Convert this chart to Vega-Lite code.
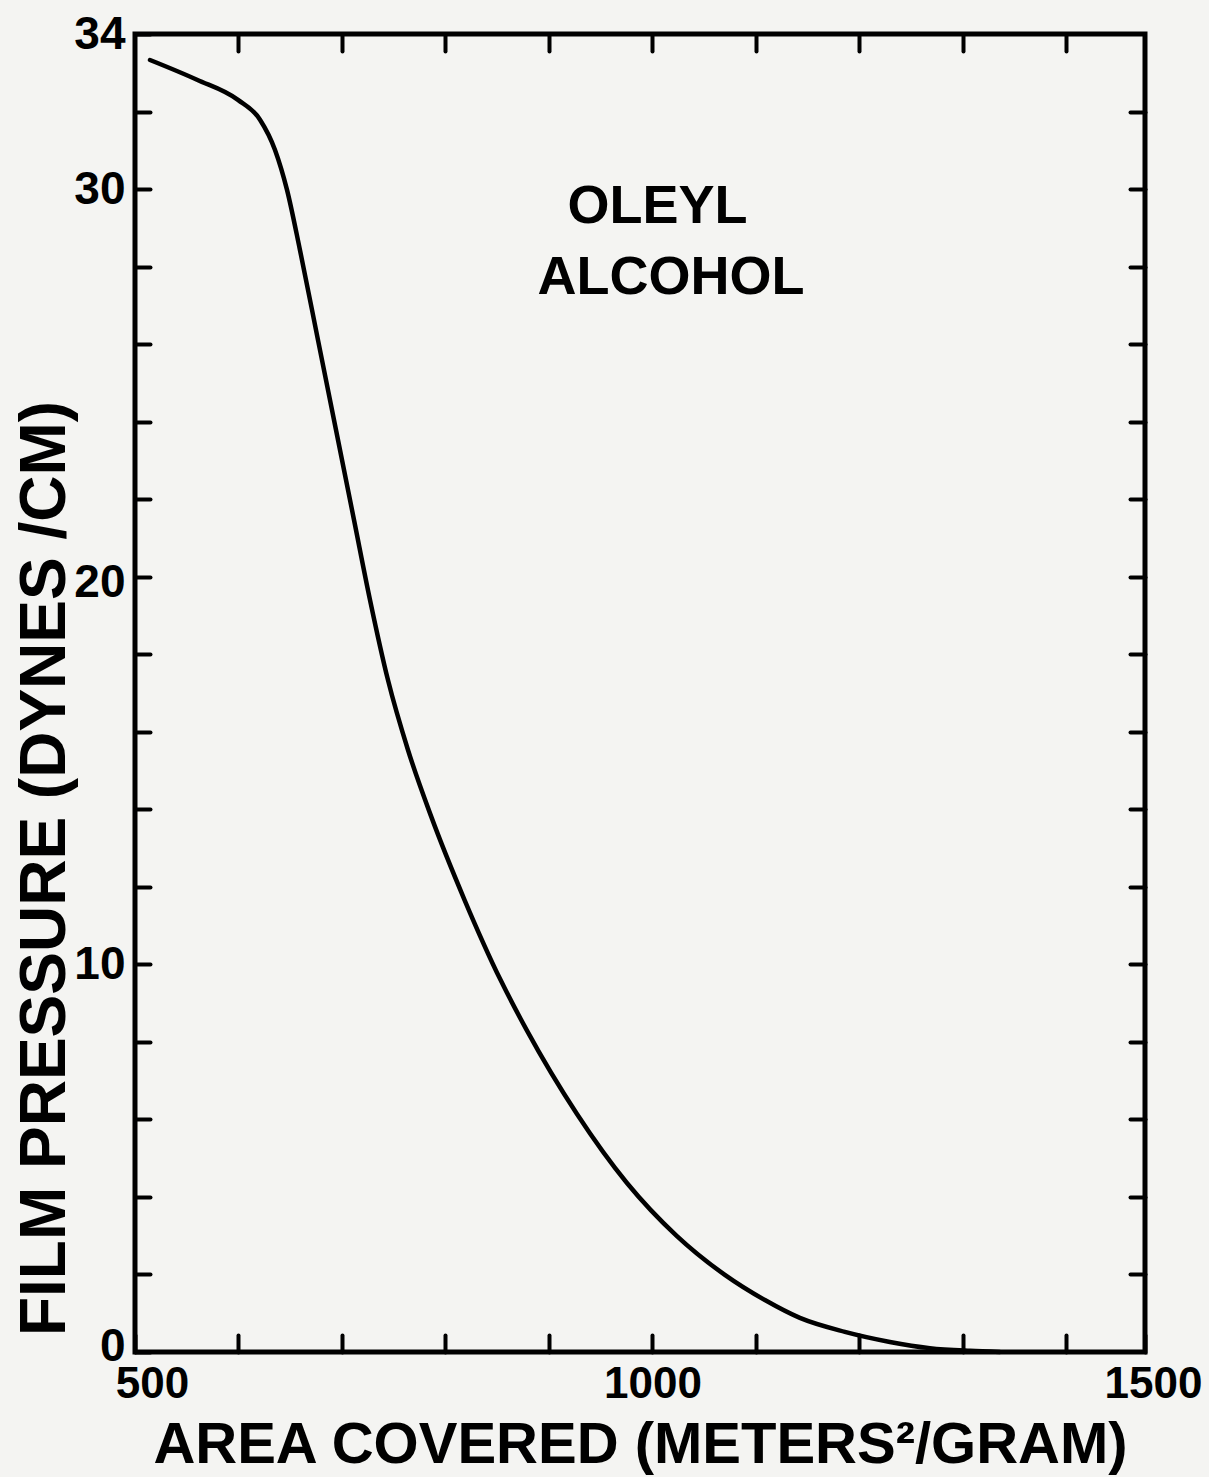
{
  "$schema": "https://vega.github.io/schema/vega-lite/v6.json",
  "width": 1010,
  "height": 1318,
  "autosize": {"type": "none"},
  "padding": {"left": 135, "top": 34, "right": 64, "bottom": 125},
  "background": "#f4f4f2",
  "config": {
    "view": {"stroke": "black", "strokeWidth": 5},
    "axis": {
      "domain": false,
      "grid": false,
      "tickColor": "black",
      "tickWidth": 4,
      "tickCap": "round",
      "labelColor": "black",
      "titleColor": "black",
      "labelFont": "Liberation Sans",
      "titleFont": "Liberation Sans",
      "labelFontWeight": "bold",
      "titleFontWeight": "bold",
      "labelOverlap": false,
      "labelFlush": false
    }
  },
  "datasets": {
    "curve": [
      {"area": 514.5, "pressure": 33.33},
      {"area": 559.9, "pressure": 32.82},
      {"area": 599.5, "pressure": 32.3},
      {"area": 620.8, "pressure": 31.79},
      {"area": 635.3, "pressure": 31.01},
      {"area": 646.9, "pressure": 29.98},
      {"area": 659.4, "pressure": 28.43},
      {"area": 676.8, "pressure": 26.11},
      {"area": 694.2, "pressure": 23.79},
      {"area": 711.6, "pressure": 21.47},
      {"area": 727.1, "pressure": 19.4},
      {"area": 744.4, "pressure": 17.34},
      {"area": 763.8, "pressure": 15.53},
      {"area": 786.0, "pressure": 13.83},
      {"area": 818.5, "pressure": 11.66},
      {"area": 853.2, "pressure": 9.6},
      {"area": 878.4, "pressure": 8.31},
      {"area": 927.1, "pressure": 6.14},
      {"area": 975.4, "pressure": 4.36},
      {"area": 1023.7, "pressure": 2.99},
      {"area": 1070.0, "pressure": 1.99},
      {"area": 1108.7, "pressure": 1.34},
      {"area": 1142.5, "pressure": 0.88},
      {"area": 1186.0, "pressure": 0.52},
      {"area": 1229.5, "pressure": 0.26},
      {"area": 1268.1, "pressure": 0.1},
      {"area": 1306.8, "pressure": 0.03},
      {"area": 1335.7, "pressure": 0.0}
    ],
    "notes": [
      {"area": 1005, "pressure": 29.54, "label": "OLEYL"},
      {"area": 1018, "pressure": 27.7, "label": "ALCOHOL"}
    ]
  },
  "layer": [
    {
      "data": {"name": "curve"},
      "mark": {"type": "line", "interpolate": "monotone", "color": "black", "strokeWidth": 4.5, "strokeCap": "round"},
      "encoding": {
        "x": {
          "field": "area",
          "type": "quantitative",
          "scale": {"domain": [500, 1476], "nice": false, "zero": false},
          "axis": {
            "orient": "bottom",
            "values": [500, 600, 700, 800, 900, 1000, 1100, 1200, 1300, 1400, 1476],
            "labelExpr": "datum.value == 500 ? '500' : datum.value == 1000 ? '1000' : datum.value == 1476 ? '1500' : ''",
            "labelOffset": {"condition": [{"test": "datum.value == 500", "value": 17}, {"test": "datum.value == 1476", "value": 8}], "value": 0},
            "tickSize": -17,
            "labelPadding": 27,
            "labelFontSize": 44,
            "labelBaseline": "top",
            "title": "AREA COVERED (METERS²/GRAM)",
            "titleFontSize": 58,
            "titleX": 505,
            "titleY": 93,
            "titleAlign": "center",
            "titleBaseline": "middle",
            "titleAngle": 0
          }
        },
        "y": {
          "field": "pressure",
          "type": "quantitative",
          "scale": {"domain": [0, 34], "nice": false, "zero": false},
          "axis": {
            "orient": "left",
            "values": [0, 2, 4, 6, 8, 10, 12, 14, 16, 18, 20, 22, 24, 26, 28, 30, 32, 34],
            "labelExpr": "(datum.value == 0 || datum.value == 10 || datum.value == 20 || datum.value == 30 || datum.value == 34) ? datum.label : ''",
            "labelOffset": {"condition": [{"test": "datum.value == 0", "value": -6}, {"test": "datum.value == 20", "value": 6}], "value": 0},
            "tickSize": -15,
            "labelPadding": 25,
            "labelFontSize": 46,
            "labelBaseline": "middle",
            "title": "FILM PRESSURE (DYNES /CM)",
            "titleFontSize": 64,
            "titleAngle": -90,
            "titleX": -90,
            "titleY": 834,
            "titleAlign": "center",
            "titleBaseline": "middle"
          }
        }
      }
    },
    {
      "data": {"name": "notes"},
      "mark": {"type": "text", "font": "Liberation Sans", "fontWeight": "bold", "fontSize": 54, "color": "black", "align": "center", "baseline": "middle"},
      "encoding": {
        "x": {
          "field": "area",
          "type": "quantitative",
          "scale": {"domain": [500, 1476], "nice": false, "zero": false},
          "axis": {
            "orient": "top",
            "values": [600, 700, 800, 900, 1000, 1100, 1200, 1300, 1400],
            "labels": false,
            "tickSize": -17,
            "title": null
          }
        },
        "y": {
          "field": "pressure",
          "type": "quantitative",
          "scale": {"domain": [0, 34], "nice": false, "zero": false},
          "axis": {
            "orient": "right",
            "values": [2, 4, 6, 8, 10, 12, 14, 16, 18, 20, 22, 24, 26, 28, 30, 32],
            "labels": false,
            "tickSize": -15,
            "title": null
          }
        },
        "text": {"field": "label"}
      }
    }
  ],
  "resolve": {"axis": {"x": "independent", "y": "independent"}}
}
